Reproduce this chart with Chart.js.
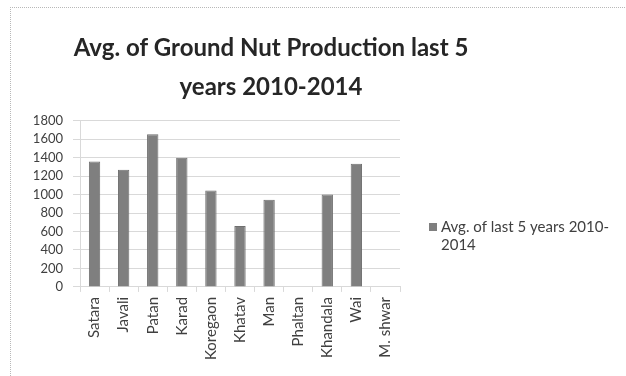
<!DOCTYPE html>
<html>
<head>
<meta charset="utf-8">
<script src="https://cdn.jsdelivr.net/npm/chart.js@4.4.1/dist/chart.umd.min.js"></script>
<style>
    html, body { margin: 0; padding: 0; background: #fff; }
    #wrap { position: relative; width: 626px; height: 376px; overflow: hidden; }
    #frame {
        position: absolute; left: 10px; top: 7px; width: 640px; height: 400px;
        border-left: 1px dotted #b8b8b8; border-top: 1px dotted #b8b8b8;
    }
    canvas { position: absolute; left: 0; top: 0; }
</style>
</head>
<body>
<div id="wrap">
    <div id="frame"></div>
    <canvas id="nutChart" width="626" height="376"></canvas>
</div>
<script>
// Talukas and their 5-year average production
const talukas = ['Satara', 'Javali', 'Patan', 'Karad', 'Koregaon', 'Khatav', 'Man', 'Phaltan', 'Khandala', 'Wai', 'M. shwar'];
const avgProduction = [1360, 1270, 1655, 1400, 1045, 660, 945, null, 1000, 1335, null];
const yTicks = [0, 200, 400, 600, 800, 1000, 1200, 1400, 1600, 1800];
const titleLines = ['Avg. of Ground Nut Production last 5', 'years 2010-2014'];
const seriesLabel = ['Avg. of last 5 years 2010-', '2014'];

const barGrey = '#7f7f7f';
const fontFamily = 'Lato, "DejaVu Sans", sans-serif';

// legend drawn to the right of the plot, label wraps onto two lines
const sideLegend = {
    id: 'sideLegend',
    afterDraw(chart) {
        const c = chart.ctx;
        c.save();
        c.fillStyle = chart.data.datasets[0].backgroundColor;
        c.fillRect(429, 223, 8, 8);
        c.fillStyle = '#404040';
        c.font = '15px ' + fontFamily;
        c.textBaseline = 'alphabetic';
        c.fillText(seriesLabel[0], 441, 232);
        c.fillText(seriesLabel[1], 441, 250);
        c.restore();
    }
};

new Chart(document.getElementById('nutChart').getContext('2d'), {
    type: 'bar',
    data: {
        labels: talukas,
        datasets: [{
            label: seriesLabel.join(''),
            data: avgProduction,
            backgroundColor: barGrey,
            borderColor: '#6f6f6f',
            borderWidth: 1,
            barPercentage: 0.5,
            categoryPercentage: 0.78
        }]
    },
    options: {
        responsive: false,
        animation: false,
        layout: { padding: { left: 10, right: 94, top: 29, bottom: 11 } },
        plugins: {
            legend: { display: false },
            tooltip: { enabled: false },
            title: {
                display: true,
                text: titleLines,
                color: '#262626',
                font: { family: fontFamily, size: 24, weight: 'bold', lineHeight: 1.62 },
                padding: { top: 0, bottom: 14 }
            }
        },
        scales: {
            y: {
                min: 0,
                max: 1800,
                afterBuildTicks: (axis) => { axis.ticks = yTicks.map(v => ({ value: v })); },
                afterFit: (axis) => { axis.width = 70; },
                grid: { color: '#d9d9d9', tickLength: 7 },
                border: { color: '#d9d9d9' },
                ticks: {
                    color: '#404040',
                    padding: 10,
                    autoSkip: false,
                    font: { family: fontFamily, size: 13 },
                    callback: (value) => String(value)
                }
            },
            x: {
                grid: { display: true, drawOnChartArea: false, color: '#d9d9d9', tickLength: 5, offset: true },
                border: { color: '#d9d9d9' },
                ticks: {
                    color: '#404040',
                    minRotation: 90,
                    maxRotation: 90,
                    padding: 5,
                    autoSkip: false,
                    font: { family: fontFamily, size: 15 }
                }
            },
            // empty right-hand band that leaves room for the legend
            gap: {
                position: 'right',
                display: true,
                afterFit: (axis) => { axis.width = 132; },
                grid: { display: false },
                border: { display: false },
                ticks: { display: false }
            }
        }
    },
    plugins: [sideLegend]
});
</script>
</body>
</html>
